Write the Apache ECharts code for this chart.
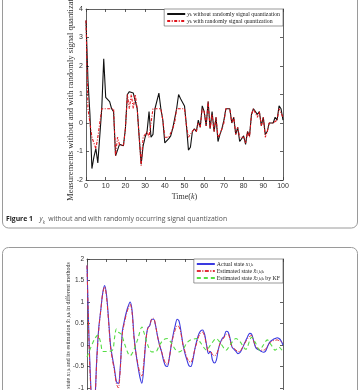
<!DOCTYPE html>
<html>
<head>
<meta charset="utf-8">
<script src="https://cdn.jsdelivr.net/npm/echarts@6/dist/echarts.min.js"></script>
<style>
  html, body { margin: 0; padding: 0; background: #fff; }
  #main { width: 360px; height: 390px; }
</style>
</head>
<body>
<div id="main"></div>
<script>
// Figure 1: measurements y_k, k = 0..100
var yNoQuant = [
  3.6, 1.5, 0.3, -1.6, -1.2, -0.9, -1.4, -1.35, 0.5, 2.25,
  0.9, 0.95, 0.75, 0.5, 0.4, -1.15, -0.95, -0.75, -0.8, -0.8,
  -0.2, 1.0, 1.1, 1.05, 1.05, 1.1, 0.5, -0.5, -1.45, -0.8,
  -0.5, -0.3, 0.4, -0.5, -0.4, 0.5, 0.45, 1.05, 0.5, 0.1,
  -0.7, -0.65, -0.55, -0.45, -0.2, -0.25, 0.5, 1.0, 0.85, 0.8,
  0.6, -0.1, -0.95, -0.85, -0.3, -0.2, -0.3, 0.1, -0.15, 0.6,
  0.4, -0.1, 0.75, -0.2, 0.4, -0.3, 0.2, -0.65, -0.4, -0.2,
  0.1, 0.5, 0.45, 0.5, 0.0, 0.2, -0.4, -0.15, -0.65, -0.6,
  -0.45, -0.75, -0.3, -0.45, 0.3, 0.5, 0.4, 0.3, 0.4, -0.1,
  0.2, -0.4, -0.3, 0.0, 0.05, 0.0, 0.2, 0.1, 0.6, 0.5, 0.1
];
var yQuant = [
  3.6, 0.5, 0.5, -0.5, -0.5, -0.9, -0.5, -0.5, 0.5, 0.5,
  0.5, 0.5, 0.5, 0.5, 0.5, -1.15, -0.5, -0.75, -0.8, -0.8,
  -0.2, 1.0, 0.5, 1.0, 0.5, 1.0, 0.5, -0.5, -1.5, -0.5,
  -0.5, -0.3, -0.5, -0.5, 0.5, 0.5, 0.5, 0.5, 0.5, 0.1,
  -0.5, -0.5, -0.5, -0.45, -0.2, 0.0, 0.5, 0.5, 0.5, 0.5,
  0.5, -0.1, -0.5, -0.5, -0.3, -0.2, -0.3, 0.0, -0.15, 0.5,
  0.4, -0.1, 0.75, -0.2, 0.3, -0.3, 0.2, -0.5, -0.4, -0.2,
  0.0, 0.5, 0.5, 0.5, 0.0, 0.2, -0.4, -0.15, -0.5, -0.5,
  -0.5, -0.7, -0.3, -0.5, 0.3, 0.5, 0.5, 0.2, 0.4, -0.1,
  0.2, -0.5, -0.3, 0.0, 0.0, 0.0, 0.0, 0.1, 0.5, 0.5, 0.2
];

// Figure 2 (cut off at the bottom): [k, value]
var xActual = [
  [0, 1.85], [1, 0.2], [2, -1.0], [3, -1.6], [4, -1.3], [5, -0.3], [6, 0.4], [7, 0.8], [8, 1.2], [9, 1.38],
  [10, 1.15], [11, 0.6], [12, 0.0], [13, -0.3], [14, -0.55], [15, -0.85], [16, -0.9], [17, -0.5], [18, 0.3], [19, 0.55],
  [20, 0.75], [21, 0.9], [22, 1.0], [23, 0.8], [24, 0.2], [25, -0.2], [26, -0.5], [27, -0.75], [28, -0.89], [29, -0.5],
  [30, 0.1], [31, 0.4], [32, 0.45], [33, 0.6], [34, 0.6], [35, 0.45], [36, 0.2], [37, 0.0], [38, -0.15], [39, -0.35],
  [40, -0.48], [41, -0.5], [42, -0.3], [43, 0.0], [44, 0.25], [45, 0.45], [46, 0.6], [47, 0.55], [48, 0.3], [49, 0.0],
  [50, -0.2], [51, -0.35], [52, -0.48], [53, -0.5], [54, -0.35], [55, -0.1], [56, 0.1], [57, 0.25], [58, 0.33], [59, 0.35],
  [60, 0.25], [61, 0.0], [62, -0.2], [63, -0.15], [64, -0.35], [65, -0.42], [66, -0.35], [67, -0.1], [68, 0.05], [69, 0.15],
  [70, 0.2], [71, 0.32], [72, 0.3], [73, 0.15], [74, -0.05], [75, -0.1], [76, -0.15], [77, -0.2], [78, -0.18], [79, -0.1],
  [80, 0.0], [81, 0.1], [82, 0.2], [83, 0.27], [84, 0.25], [85, 0.1], [86, -0.05], [87, -0.1], [88, -0.12], [89, -0.15],
  [90, -0.17], [91, -0.15], [92, -0.05], [93, 0.05], [94, 0.1], [95, 0.13], [96, 0.15], [97, 0.17], [98, 0.15], [99, 0.1], [100, 0.0]
];
var xEst = [
  [0, 1.85], [1, 0.1], [2, -1.1], [3, -1.7], [4, -1.35], [5, -0.35], [6, 0.35], [7, 0.8], [8, 1.2], [9, 1.35],
  [10, 1.1], [11, 0.55], [12, -0.05], [13, -0.35], [14, -0.6], [15, -0.9], [16, -1.0], [17, -0.55], [18, 0.25], [19, 0.5],
  [20, 0.7], [21, 0.85], [22, 0.95], [23, 0.75], [24, 0.15], [25, -0.2], [26, -0.45], [27, -0.65], [28, -0.72], [29, -0.4],
  [30, 0.1], [31, 0.38], [32, 0.45], [33, 0.6], [34, 0.62], [35, 0.45], [36, 0.2], [37, 0.0], [38, -0.15], [39, -0.3],
  [40, -0.42], [41, -0.45], [42, -0.3], [43, 0.0], [44, 0.2], [45, 0.35], [46, 0.45], [47, 0.42], [48, 0.25], [49, 0.0],
  [50, -0.15], [51, -0.3], [52, -0.38], [53, -0.4], [54, -0.3], [55, -0.1], [56, 0.05], [57, 0.2], [58, 0.28], [59, 0.3],
  [60, 0.2], [61, 0.0], [62, -0.15], [63, -0.15], [64, -0.22], [65, -0.25], [66, -0.22], [67, -0.1], [68, 0.05], [69, 0.12],
  [70, 0.18], [71, 0.25], [72, 0.25], [73, 0.12], [74, -0.05], [75, -0.08], [76, -0.12], [77, -0.15], [78, -0.15], [79, -0.08],
  [80, 0.0], [81, 0.08], [82, 0.15], [83, 0.2], [84, 0.22], [85, 0.1], [86, -0.03], [87, -0.08], [88, -0.1], [89, -0.12],
  [90, -0.12], [91, -0.1], [92, -0.03], [93, 0.03], [94, 0.08], [95, 0.1], [96, 0.11], [97, 0.12], [98, 0.1], [99, 0.08], [100, 0.05]
];
var xKF = [
  [0, -0.28], [2, -0.05], [4, 0.15], [5.5, 0.23], [7, 0.05], [8, -0.15], [10, -0.15], [13, -0.12], [14, 0.15], [15, 0.37],
  [16, 0.3], [17.5, 0.25], [19, 0.05], [21, -0.2], [22, -0.25], [24, -0.1], [26, 0.15], [28, 0.42], [29, 0.3], [31, 0.0],
  [33, -0.16], [35, -0.16], [37, 0.0], [39, 0.12], [41, 0.15], [43, 0.05], [45, -0.1], [47, -0.16], [49, -0.1], [51, 0.05],
  [53, 0.12], [56, 0.15], [58, 0.05], [61, -0.12], [63, 0.0], [66, 0.15], [68, 0.05], [71, -0.12], [73, 0.0], [76, 0.15],
  [78, 0.08], [81, -0.1], [84, 0.18], [86, 0.05], [88, -0.12], [90, 0.0], [92, 0.12], [94, 0.0], [96, -0.12], [98, -0.05], [100, -0.16]
];

var xTicks1 = [0, 100, 10];
var yTicks1 = [-2, 4, 1];
var yTicks2 = [-1.5, 2, 0.5];

function withK(arr) {
  return arr.map(function (v, i) { return [i, v]; });
}

var axisCol = '#3a3a3a';
var tickFont = 'Liberation Sans, Arial, sans-serif';
var serif = 'Liberation Serif, Times New Roman, serif';

function frameAxis(grid, pos, lim, labels) {
  return {
    type: 'value', gridIndex: grid, position: pos,
    min: lim[0], max: lim[1], interval: lim[2],
    axisLine: { show: true, onZero: false, lineStyle: { color: axisCol, width: 0.8 } },
    axisTick: { show: true, inside: true, length: 3, lineStyle: { color: axisCol, width: 0.8 } },
    axisLabel: { show: labels, color: '#333', fontSize: 7, fontFamily: tickFont, margin: 3 },
    splitLine: { show: false }
  };
}

var xa0 = frameAxis(0, 'bottom', xTicks1, true);
xa0.name = '{t|Time(}{i|k}{t|)}';
xa0.nameLocation = 'middle';
xa0.nameGap = 13;
xa0.nameTextStyle = { rich: {
  t: { fontSize: 8, fontFamily: serif, color: '#333' },
  i: { fontSize: 8, fontFamily: serif, fontStyle: 'italic', color: '#333' }
} };
var ya0 = frameAxis(0, 'left', yTicks1, true);
ya0.name = '{t|Measurements without and with randomly signal quantization}';
ya0.nameLocation = 'middle';
ya0.nameRotate = 90;
ya0.nameGap = 11;
ya0.nameMoveOverlap = false;
ya0.nameTextStyle = { rich: { t: { fontSize: 8.6, fontFamily: serif, color: '#333' } } };

var xa2 = frameAxis(1, 'bottom', xTicks1, true);
var ya2 = frameAxis(1, 'left', yTicks2, true);
ya2.axisLabel.fontSize = 6.5;
ya2.name = '{t|Actual state }{i|x}{s|1,k}{t| and its estimation }{i|x̂}{s|1,k|k}{t| in different methods}';
ya2.nameLocation = 'middle';
ya2.nameRotate = 90;
ya2.nameGap = 16;
ya2.nameMoveOverlap = false;
ya2.nameTextStyle = { rich: {
  t: { fontSize: 6, fontFamily: serif, color: '#333' },
  i: { fontSize: 6, fontFamily: serif, fontStyle: 'italic', color: '#333' },
  s: { fontSize: 4.2, fontFamily: serif, color: '#333', verticalAlign: 'bottom' }
} };

var legRich = {
  t: { fontSize: 5.8, fontFamily: serif, color: '#222' },
  i: { fontSize: 5.8, fontFamily: serif, fontStyle: 'italic', color: '#222' },
  s: { fontSize: 4, fontFamily: serif, color: '#222', verticalAlign: 'bottom' }
};
var legendText = {
  'noq': '{i|y}{s|k}{t| without randomly signal quantization}',
  'q': '{i|y}{s|k}{t| with randomly signal quantization}',
  'act': '{t|Actual state }{i|x}{s|1,k}',
  'est': '{t|Estimated state }{i|x̂}{s|1,k|k}',
  'kf': '{t|Estimated state }{i|x̂}{s|2,k|k}{t| by KF}'
};

function makeLegend(names, top) {
  return {
    data: names, orient: 'vertical', right: 77, top: top,
    itemWidth: 18, itemHeight: 7, itemGap: 1, padding: [2, 3, 2, 2],
    backgroundColor: '#fff', borderColor: '#555', borderWidth: 0.6, borderRadius: 0,
    itemStyle: { opacity: 0 },
    formatter: function (n) { return legendText[n]; },
    textStyle: { rich: legRich, padding: [0, 0, 0, -3] }
  };
}

var option = {
  animation: false,
  graphic: [
    { type: 'rect', shape: { x: 2.5, y: -20, width: 355, height: 248, r: 6 },
      style: { fill: 'none', stroke: '#9a9a9a', lineWidth: 1 } },
    { type: 'rect', shape: { x: 2.5, y: 247.5, width: 355, height: 200, r: 6 },
      style: { fill: 'none', stroke: '#9a9a9a', lineWidth: 1 } },
    { type: 'text', left: 6, top: 213,
      style: {
        text: '{b|Figure 1}  {i|y}{s|k} {t|without and with randomly occurring signal quantization}',
        rich: {
          b: { fontSize: 6.8, fontWeight: 'bold', fontFamily: 'Open Sans, sans-serif', fill: '#222' },
          i: { fontSize: 6.8, fontStyle: 'italic', fontFamily: 'Open Sans, sans-serif', fill: '#555' },
          s: { fontSize: 4.5, fontStyle: 'italic', fontFamily: 'Open Sans, sans-serif', fill: '#555', verticalAlign: 'bottom' },
          t: { fontSize: 6.8, fontFamily: 'Open Sans, sans-serif', fill: '#555' }
        }
      }
    }
  ],
  legend: [
    makeLegend(['noq', 'q'], 9),
    makeLegend(['act', 'est', 'kf'], 259)
  ],
  grid: [
    { left: 86, top: 9, width: 197, height: 171, outerBoundsMode: 'none' },
    { left: 87, top: 259, width: 196, height: 150.5, outerBoundsMode: 'none' }
  ],
  xAxis: [
    xa0,
    frameAxis(0, 'top', xTicks1, false),
    xa2,
    frameAxis(1, 'top', xTicks1, false)
  ],
  yAxis: [
    ya0,
    frameAxis(0, 'right', yTicks1, false),
    ya2,
    frameAxis(1, 'right', yTicks2, false)
  ],
  series: [
    { name: 'noq', type: 'line', xAxisIndex: 0, yAxisIndex: 0, symbol: 'none',
      data: withK(yNoQuant), lineStyle: { color: '#111', width: 1.1 }, itemStyle: { color: '#111' } },
    { name: 'q', type: 'line', xAxisIndex: 0, yAxisIndex: 0, symbol: 'none',
      data: withK(yQuant), lineStyle: { color: '#e0141c', width: 1.1, type: [3, 1.5, 1, 1.5] }, itemStyle: { color: '#e0141c' } },
    { name: 'act', type: 'line', xAxisIndex: 2, yAxisIndex: 2, symbol: 'none', smooth: 0.3,
      data: xActual, lineStyle: { color: '#3a3ae0', width: 1.1 }, itemStyle: { color: '#3a3ae0' } },
    { name: 'est', type: 'line', xAxisIndex: 2, yAxisIndex: 2, symbol: 'none', smooth: 0.3,
      data: xEst, lineStyle: { color: '#e0303a', width: 1, type: [4, 1.5, 1, 1.5] }, itemStyle: { color: '#e0303a' } },
    { name: 'kf', type: 'line', xAxisIndex: 2, yAxisIndex: 2, symbol: 'none', smooth: 0.3,
      data: xKF, lineStyle: { color: '#55dd44', width: 1.1, type: [4, 3] }, itemStyle: { color: '#55dd44' } }
  ]
};

var chart = echarts.init(document.getElementById('main'));
chart.setOption(option);
</script>
</body>
</html>
